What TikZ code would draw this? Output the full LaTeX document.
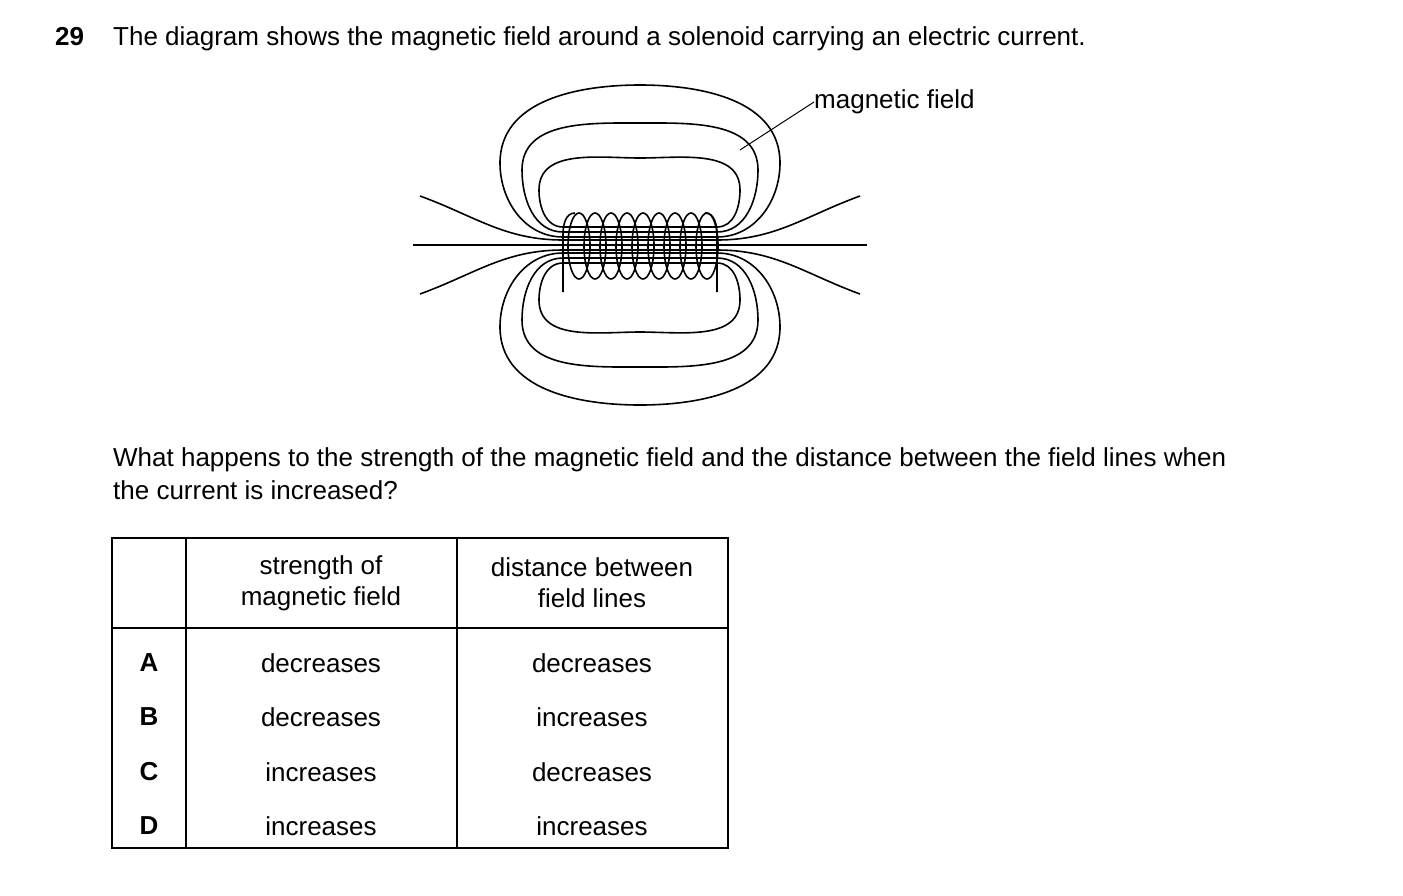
\documentclass[tikz,border=0pt]{standalone}
\usepackage{fontspec}
\setmainfont{Liberation Sans}
\begin{document}
\begin{tikzpicture}[x=1pt,y=-1pt,
  fl/.style={line width=1.6pt},
  txt/.style={font=\fontsize{26}{31}\selectfont, inner sep=0pt},
  cell/.style={txt, align=center}]
\useasboundingbox (0,0) rectangle (1403,895);
\node[txt,anchor=base west,font=\fontsize{26}{31}\selectfont\bfseries] (num) at (55,45) {29};
\node[txt,anchor=base west] (q1) at (113,45) {The diagram shows the magnetic field around a solenoid carrying an electric current.};
% field lines
\draw[fl] (413,245) -- (867,245);
\draw[fl] (420,196) to[out=-20,in=180] (563,240) -- (717,240) to[out=0,in=200] (860,196);
\draw[fl] (420,294) to[out=20,in=180] (563,250) -- (717,250) to[out=0,in=160] (860,294);
\foreach \yin/\xl/\ym/\yt/\xr/\s in {237/500/163/85/780/1, 232/522/170/123/758/1, 227/539/190/158/740/1, 253/500/327/405/780/-1, 258/522/320/367/758/-1, 263/539/300/332/740/-1}{
  \draw[fl] (563,\yin) to[out=180,in=-90*\s] (\xl,\ym) to[out=90*\s,in=180] (640,\yt) to[out=0,in=90*\s] (\xr,\ym) to[out=-90*\s,in=0] (717,\yin) -- cycle;
}
% coil
\foreach \i in {0,...,8}{
  \draw[fl,fill=none] (579+\i*16,246) ellipse[x radius=11, y radius=33];
}
\draw[fl] (563,292) -- (563,235) to[out=90,in=180] (575,213);
\draw[fl] (717,292) -- (717,235) to[out=90,in=0] (705,213);
% label
\coordinate (lp) at (740,150);
\node[txt,anchor=west] (mf) at (814,102) {magnetic field};
\draw[line width=1pt] (lp) -- (mf.west);
\node[txt,anchor=base west] (q2) at (113,466) {What happens to the strength of the magnetic field and the distance between the field lines when};
\node[txt,anchor=base west] (q3) at (113,499) {the current is increased?};
% table
\draw[line width=1.3pt] (112,538) rectangle (728,848);
\draw[line width=1.3pt] (186,538) -- (186,848) (457,538) -- (457,848) (112,628) -- (728,628);
\node[cell] (h1) at (321,583) {strength of\\magnetic field};
\node[cell] (h2) at (592,583) {distance between\\field lines};
\foreach \l/\a/\b/\y in {A/decreases/decreases/663, B/decreases/increases/717, C/increases/decreases/772, D/increases/increases/826}{
  \node[cell,font=\fontsize{26}{31}\selectfont\bfseries] (r\l) at (149,\y) {\l};
  \node[cell] (s\l) at (321,\y) {\a};
  \node[cell] (d\l) at (592,\y) {\b};
}
\end{tikzpicture}
\end{document}
